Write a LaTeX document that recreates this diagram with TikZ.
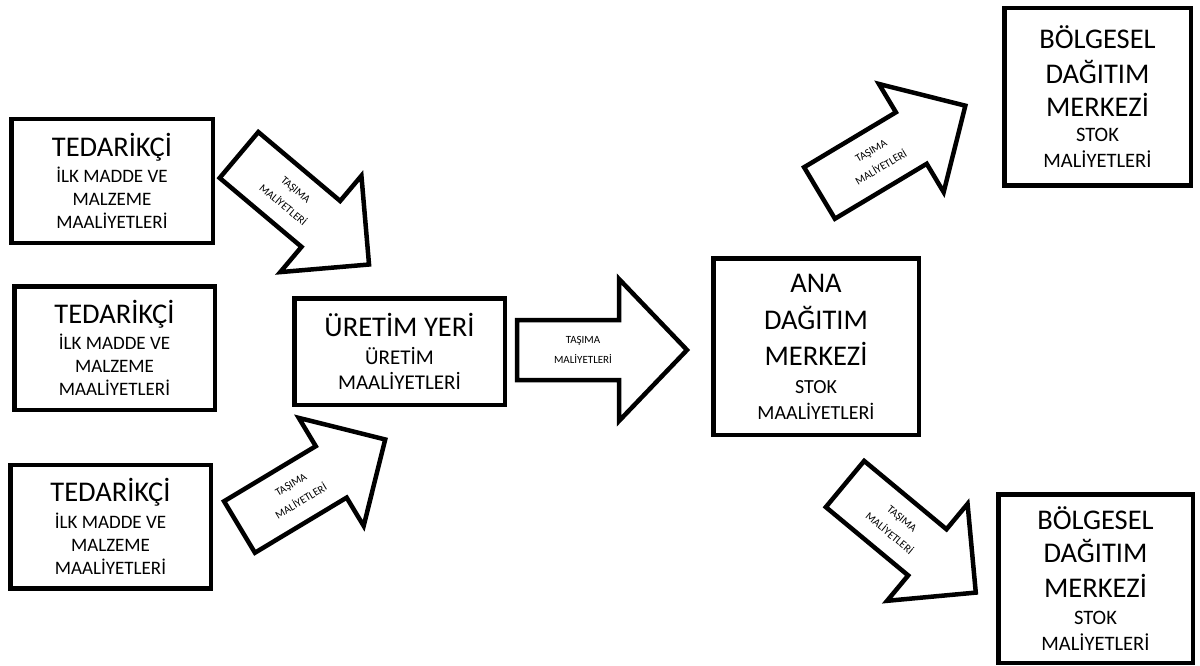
\documentclass[tikz,border=0pt]{standalone}
\usepackage{fontspec}
\setmainfont{Carlito}
\usepackage{tikz}
\newcommand\buyukyazi{\fontsize{28.5}{34}\selectfont}
\newcommand\kucukyazi[1][19]{\fontsize{#1}{23}\selectfont}
\newcommand\okfont{\fontsize{11}{19.5}\selectfont}
\tikzstyle{kutu} = [draw=black, fill=white, line width=4.5pt, rectangle,
    align=center, inner sep=0pt, outer sep=0pt, font=\kucukyazi]
\tikzstyle{okcizgi} = [draw=black, fill=white, line width=4.5pt, line join=miter]
\tikzstyle{okyazi} = [font=\okfont, align=center, inner sep=0pt]
\tikzset{
    pics/tasimaok/.style 2 args={code={
        \draw [okcizgi] (0,-30) -- (170-#2,-30) -- (170-#2,-#1) -- (170,0)
            -- (170-#2,#1) -- (170-#2,30) -- (0,30) -- cycle;
        \node [okyazi] (-metin) at (66,0) {TAŞIMA\\MALİYETLERİ};
    }}
}

\begin{document}
\begin{tikzpicture}[x=1pt, y=-1pt]
\useasboundingbox (0,0) rectangle (1200,666);
% tedarikciler
\node [kutu, minimum width=201.5pt, minimum height=123.5pt] (ted1) at (112,181) {
    \buyukyazi TEDARİKÇİ\\[3.5pt]
    İLK MADDE VE\\
    MALZEME\\
    MAALİYETLERİ
};
\node [kutu, minimum width=200.5pt, minimum height=123.5pt] (ted2) at (114.5,348) {
    \buyukyazi TEDARİKÇİ\\[3.5pt]
    İLK MADDE VE\\
    MALZEME\\
    MAALİYETLERİ
};
\node [kutu, minimum width=200.5pt, minimum height=123.5pt] (ted3) at (110.5,526.5) {
    \buyukyazi TEDARİKÇİ\\[3.5pt]
    İLK MADDE VE\\
    MALZEME\\
    MAALİYETLERİ
};
% uretim ve ana dagitim
\node [kutu, font={\kucukyazi[21]}, minimum width=210.5pt, minimum height=106.5pt]
    (uretim) at (399.5,351.5) {
    \buyukyazi ÜRETİM YERİ\\[4.5pt]
    ÜRETİM\\[2.5pt]
    MAALİYETLERİ
};
\node [kutu, font={\kucukyazi[20]}, minimum width=205.5pt, minimum height=176.5pt]
    (ana) at (816,346.5) {
    \buyukyazi ANA\\[13pt]
    \buyukyazi DAĞITIM\\[12pt]
    \buyukyazi MERKEZİ\\[5pt]
    STOK\\[2.5pt]
    MAALİYETLERİ
};
% bolgesel merkezler
\node [kutu, font={\kucukyazi[20.5]}, minimum width=186.5pt, minimum height=177.5pt]
    (bolge1) at (1097.5,97) {
    \buyukyazi BÖLGESEL\\[10pt]
    \buyukyazi DAĞITIM\\[9pt]
    \buyukyazi MERKEZİ\\[2pt]
    STOK\\[3pt]
    MALİYETLERİ
};
\node [kutu, font={\kucukyazi[20.5]}, minimum width=194.5pt, minimum height=168.5pt]
    (bolge2) at (1095.5,578.5) {
    \buyukyazi BÖLGESEL\\[8pt]
    \buyukyazi DAĞITIM\\[11pt]
    \buyukyazi MERKEZİ\\[3.5pt]
    STOK\\[3pt]
    MALİYETLERİ
};
% tasima oklari
\pic [rotate=-40.1, transform shape] (ok1) at (239,155) {tasimaok={63}{63}};
\pic [rotate=31, transform shape] (ok2) at (239.5,527) {tasimaok={63}{63}};
\pic [transform shape] (ok3) at (517,350) {tasimaok={71}{68}};
\pic [rotate=30.9, transform shape] (ok4) at (819.5,193) {tasimaok={63}{63}};
\pic [rotate=-39.7, transform shape] (ok5) at (845,484) {tasimaok={63}{63}};
\end{tikzpicture}
\end{document}
